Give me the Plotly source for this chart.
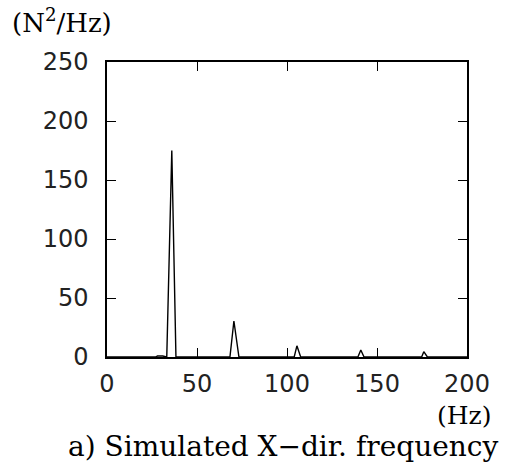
import plotly.graph_objects as go

# Spectrum vertices (frequency in Hz, PSD in N^2/Hz)
freq_hz = [0, 27, 28, 29, 30, 31, 33.2, 36, 38.3, 68.3, 70.5, 73.3,
           104, 105.5, 107.6, 139.4, 141, 142.8, 174.8, 176, 178, 200]
psd = [0, 0, 0.8, 0.8, 0.8, 0.8, 0, 175, 0, 0, 30.5, 0,
       0, 9.5, 0, 0, 6, 0, 0, 4.5, 0, 0]

x_ticks = [0, 50, 100, 150, 200]
y_ticks = [0, 50, 100, 150, 200, 250]

fig = go.Figure()
fig.add_trace(go.Scatter(x=freq_hz, y=psd, mode="lines",
                         line=dict(color="black", width=1.4),
                         showlegend=False, hoverinfo="skip"))

tick_font = dict(family="DejaVu Sans", size=24, color="#222")
fig.update_xaxes(range=[0, 200], tickvals=x_ticks, ticktext=[str(v) for v in x_ticks],
                 showline=True, linecolor="black", linewidth=1.5, mirror="ticks",
                 ticks="inside", ticklen=9, tickwidth=1.3, tickcolor="black",
                 showgrid=False, zeroline=False, tickfont=tick_font,
                 ticklabelstandoff=4)
fig.update_yaxes(range=[0, 250], tickvals=y_ticks, ticktext=[str(v) for v in y_ticks],
                 showline=True, linecolor="black", linewidth=1.5, mirror="ticks",
                 ticks="inside", ticklen=9, tickwidth=1.3, tickcolor="black",
                 showgrid=False, zeroline=False, tickfont=tick_font,
                 ticklabelstandoff=12)

serif = dict(family="DejaVu Serif", color="black")
fig.add_annotation(text="(N<sup>2</sup>/Hz)", xref="paper", yref="paper",
                   x=-0.27, y=1.075, xanchor="left", yanchor="bottom",
                   showarrow=False, font=dict(size=26, **serif))
fig.add_annotation(text="(Hz)", xref="paper", yref="paper",
                   x=1.072, y=-0.197, xanchor="right", yanchor="middle",
                   showarrow=False, font=dict(size=25, **serif))
fig.add_annotation(text="a) Simulated X\u2212dir. frequency", xref="paper", yref="paper",
                   x=0.4875, y=-0.302, xanchor="center", yanchor="middle",
                   showarrow=False, font=dict(size=28, **serif))

fig.update_layout(width=529, height=467,
                  margin=dict(l=107, r=62, t=62, b=110),
                  plot_bgcolor="white", paper_bgcolor="white")

fig.write_html("out.html")
